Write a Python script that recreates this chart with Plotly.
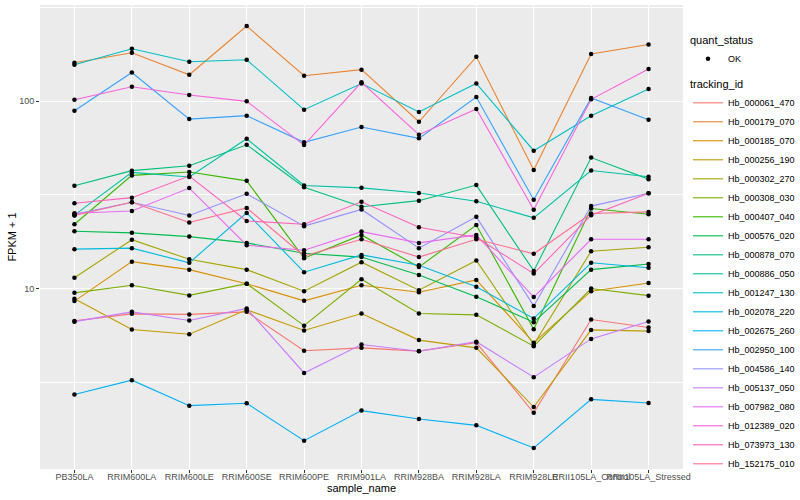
import math
import plotly.graph_objects as go

# ---- categories ----
samples = ["PB350LA", "RRIM600LA", "RRIM600LE", "RRIM600SE", "RRIM600PE",
           "RRIM901LA", "RRIM928BA", "RRIM928LA", "RRIM928LE",
           "RRII105LA_Control", "RRII105LA_Stressed"]

tracking_ids = ["Hb_000061_470", "Hb_000179_070", "Hb_000185_070", "Hb_000256_190",
                "Hb_000302_270", "Hb_000308_030", "Hb_000407_040", "Hb_000576_020",
                "Hb_000878_070", "Hb_000886_050", "Hb_001247_130", "Hb_002078_220",
                "Hb_002675_260", "Hb_002950_100", "Hb_004586_140", "Hb_005137_050",
                "Hb_007982_080", "Hb_012389_020", "Hb_073973_130", "Hb_152175_010"]

# ---- series values (FPKM + 1) ----
Hb_000061_470 = [6.71, 7.32, 7.27, 7.50, 4.65, 4.82, 4.63, 5.14, 2.17, 6.83, 6.19]
Hb_000179_070 = [160, 181, 138, 251, 136.5, 147, 77.5, 172, 42.8, 178, 200]
Hb_000185_070 = [8.56, 13.9, 12.6, 10.6, 8.59, 10.4, 9.55, 11.1, 5.13, 9.67, 10.7]
Hb_000256_190 = [8.82, 6.04, 5.70, 7.69, 5.97, 7.35, 5.30, 4.82, 2.33, 6.01, 5.92]
Hb_000302_270 = [11.4, 18.2, 14.3, 12.6, 9.67, 13.8, 9.79, 14.1, 5.02, 15.8, 16.6]
Hb_000308_030 = [9.47, 10.4, 9.18, 10.6, 6.33, 11.2, 7.35, 7.23, 4.92, 9.99, 9.15]
Hb_000407_040 = [22.0, 40.1, 41.8, 37.5, 14.5, 19.3, 13.0, 21.8, 6.06, 26.7, 24.9]
Hb_000576_020 = [20.2, 19.8, 18.9, 17.5, 15.4, 14.7, 11.8, 9.02, 6.61, 12.6, 13.5]
Hb_000878_070 = [35.3, 42.5, 45.1, 58.4, 34.7, 27.3, 29.4, 35.6, 12.4, 49.9, 38.3]
Hb_000886_050 = [24.6, 41.6, 39.3, 62.9, 35.4, 34.4, 32.3, 29.2, 23.8, 42.6, 39.4]
Hb_001247_130 = [156, 190, 162, 166, 89.9, 124, 87.4, 124, 54.3, 83.5, 116]
Hb_002078_220 = [16.2, 16.4, 13.7, 25.3, 12.2, 15.1, 13.3, 10.2, 6.92, 13.7, 12.9]
Hb_002675_260 = [2.72, 3.24, 2.37, 2.44, 1.54, 2.23, 2.01, 1.86, 1.41, 2.56, 2.45]
Hb_002950_100 = [88.8, 142, 80.1, 83.5, 60.2, 72.6, 63.2, 105, 29.7, 103.7, 79.5]
Hb_004586_140 = [24.9, 28.8, 24.5, 32.0, 21.5, 26.4, 16.4, 24.1, 8.07, 27.5, 32.2]
Hb_005137_050 = [6.65, 7.50, 6.75, 7.82, 3.54, 5.02, 4.62, 5.20, 3.36, 5.38, 6.67]
Hb_007982_080 = [25.2, 25.9, 34.3, 17.0, 16.0, 20.1, 17.5, 19.3, 8.99, 18.3, 18.3]
Hb_012389_020 = [101.6, 119.2, 107.6, 99.6, 58.2, 125.9, 66.1, 90.6, 26.3, 102.1, 148.2]
Hb_073973_130 = [28.5, 30.5, 39.8, 22.9, 22.0, 29.0, 21.2, 18.7, 12.0, 24.6, 32.2]
Hb_152175_010 = [24.5, 28.8, 22.5, 26.9, 14.9, 18.3, 14.7, 18.3, 15.3, 25.1, 25.6]

series = [Hb_000061_470, Hb_000179_070, Hb_000185_070, Hb_000256_190, Hb_000302_270,
          Hb_000308_030, Hb_000407_040, Hb_000576_020, Hb_000878_070, Hb_000886_050,
          Hb_001247_130, Hb_002078_220, Hb_002675_260, Hb_002950_100, Hb_004586_140,
          Hb_005137_050, Hb_007982_080, Hb_012389_020, Hb_073973_130, Hb_152175_010]

# ggplot2 default hue palette for 20 levels
colors = ["#F8766D", "#EA8331", "#D89000", "#C09B00", "#A3A500", "#7CAE00", "#39B600",
          "#00BB4E", "#00BF7D", "#00C1A3", "#00BFC4", "#00BAE0", "#00B0F6", "#35A2FF",
          "#9590FF", "#C77CFF", "#E76BF3", "#FA62DB", "#FF62BC", "#FF6C91"]

FONT = "Liberation Sans, Arial, sans-serif"

fig = go.Figure()

for name, vals, col in zip(tracking_ids, series, colors):
    fig.add_trace(go.Scatter(
        x=samples, y=vals, mode="lines", name=name,
        line=dict(color=col, width=1.1),
        legend="legend2", hoverinfo="x+y+name"))

# points (quant_status = OK) on top of the lines
all_x = []
all_y = []
for vals in series:
    all_x.extend(samples)
    all_y.extend(vals)
fig.add_trace(go.Scatter(
    x=all_x, y=all_y, mode="markers", name="OK",
    marker=dict(color="black", size=4.5),
    legend="legend"))

allv = [v for s in series for v in s]
lo, hi = math.log10(min(allv)), math.log10(max(allv))
pad = 0.05 * (hi - lo)

fig.update_layout(
    width=800, height=500,
    margin=dict(l=40, r=117, t=5, b=31),
    paper_bgcolor="white",
    plot_bgcolor="#EBEBEB",
    font=dict(family=FONT, size=9, color="black"),
    xaxis=dict(
        type="category", categoryorder="array", categoryarray=samples,
        range=[-0.6, len(samples) - 0.4],
        showgrid=True, gridcolor="white", gridwidth=1.1,
        zeroline=False, showline=False,
        ticks="outside", ticklen=3, tickcolor="#333333", tickwidth=1,
        ticklabelstandoff=-4,
        tickangle=0, tickfont=dict(size=9, color="#4D4D4D", family=FONT),
        title=dict(text="sample_name", font=dict(size=11, color="black", family=FONT), standoff=2),
        automargin=False,
    ),
    yaxis=dict(
        type="log", range=[lo - pad, hi + pad],
        tickmode="array", tickvals=[10, 100], ticktext=["10", "100"],
        showgrid=True, gridcolor="white", gridwidth=1.1,
        minor=dict(tickmode="array", tickvals=[3.1623, 31.623, 316.23],
                   showgrid=True, gridcolor="white", gridwidth=0.55, ticks=""),
        zeroline=False, showline=False,
        ticks="outside", ticklen=3, tickcolor="#333333", tickwidth=1,
        tickfont=dict(size=9, color="#4D4D4D", family=FONT),
        title=dict(text="FPKM + 1", font=dict(size=11, color="black", family=FONT), standoff=0),
        automargin=False,
    ),
    legend=dict(
        title=dict(text="quant_status", font=dict(size=11, family=FONT)),
        xref="container", yref="container", x=688 / 800, y=1 - 30 / 500,
        xanchor="left", yanchor="top",
        font=dict(size=9, family=FONT), itemwidth=30,
        bgcolor="rgba(0,0,0,0)",
    ),
    legend2=dict(
        title=dict(text="tracking_id", font=dict(size=11, family=FONT)),
        xref="container", yref="container", x=688 / 800, y=1 - 74 / 500,
        xanchor="left", yanchor="top",
        font=dict(size=9, family=FONT), itemwidth=30,
        bgcolor="rgba(0,0,0,0)",
        maxheight=424,
    ),
    showlegend=True,
)

fig.write_html("out.html", config={"displayModeBar": False},
               post_script="document.body.style.margin='0px';")
